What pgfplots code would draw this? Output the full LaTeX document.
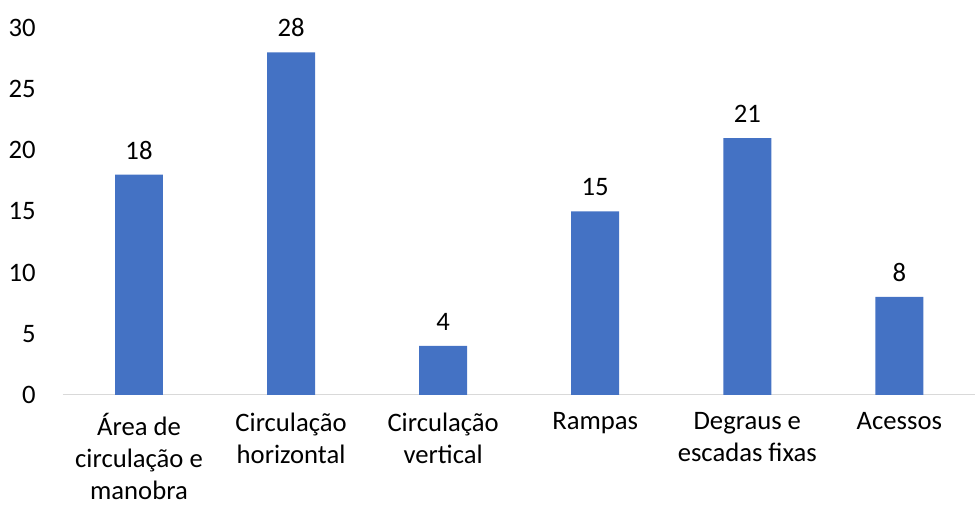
\documentclass[border=0pt]{standalone}
\usepackage{pgfplots}
\pgfplotsset{compat=1.18}
\usepackage{fontspec}
\setmainfont{Carlito}
\definecolor{barblue}{HTML}{4472C4}
\definecolor{axisgray}{HTML}{D9D9D9}
\begin{document}
\begin{tikzpicture}[x=0.75pt,y=0.75pt]
\begin{axis}[
  width=684.75pt, height=275.25pt,
  scale only axis,
  clip=false,
  xmin=-0.5, xmax=5.5,
  ymin=0, ymax=30,
  ytick={0,5,...,30},
  xtick={0,1,2,3,4,5},
  xticklabels={{Área de\\circulação e\\manobra},{Circulação\\horizontal},{Circulação\\vertical},{Rampas},{Degraus e\\escadas fixas},{Acessos}},
  xticklabel style={align=center, font=\fontsize{20}{24}\selectfont, text depth=0pt, yshift=-10pt},
  yticklabel style={font=\fontsize{20}{24}\selectfont, xshift=-17pt},
  /pgf/number format/assume math mode=true,
  major tick length=0pt,
  axis x line*=bottom,
  axis y line=left,
  y axis line style={draw=none},
  x axis line style={draw=axisgray, line width=0.9pt, -},
  ybar,
  bar width=36pt,
  nodes near coords,
  every node near coord/.append style={font=\fontsize{20}{24}\selectfont, yshift=8pt},
]
\addplot[fill=barblue, draw=none] coordinates {(0,18) (1,28) (2,4) (3,15) (4,21) (5,8)};
\path (rel axis cs:-0.069,-0.31) rectangle (rel axis cs:1,1.0763);
\end{axis}
\end{tikzpicture}
\end{document}
